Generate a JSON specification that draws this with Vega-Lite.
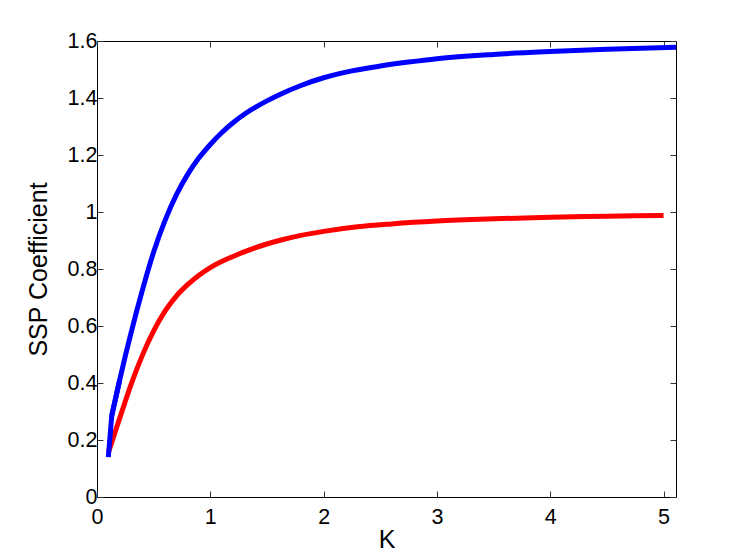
{
  "$schema": "https://vega.github.io/schema/vega-lite/v6.json",
  "width": 579,
  "height": 456,
  "autosize": "none",
  "padding": {"left": 97, "top": 41, "right": 71, "bottom": 62},
  "background": "white",
  "config": {
    "font": "Liberation Sans",
    "view": {"stroke": "black", "strokeWidth": 1},
    "axis": {
      "grid": false,
      "domain": false,
      "tickSize": -6,
      "tickColor": "#333333",
      "labelFlush": false,
      "labelFont": "Liberation Sans",
      "labelFontSize": 21.5,
      "labelColor": "black",
      "titleFont": "Liberation Sans",
      "titleFontSize": 25,
      "titleFontWeight": "normal",
      "titleColor": "black"
    }
  },
  "datasets": {
    "main": [
      {"K": 0.13, "v": 0.285, "series": "A"},
      {"K": 0.2, "v": 0.41, "series": "A"},
      {"K": 0.25, "v": 0.495, "series": "A"},
      {"K": 0.3, "v": 0.575, "series": "A"},
      {"K": 0.35, "v": 0.652, "series": "A"},
      {"K": 0.4, "v": 0.725, "series": "A"},
      {"K": 0.45, "v": 0.795, "series": "A"},
      {"K": 0.5, "v": 0.86, "series": "A"},
      {"K": 0.6, "v": 0.97, "series": "A"},
      {"K": 0.7, "v": 1.06, "series": "A"},
      {"K": 0.8, "v": 1.132, "series": "A"},
      {"K": 0.9, "v": 1.19, "series": "A"},
      {"K": 1.0, "v": 1.237, "series": "A"},
      {"K": 1.1, "v": 1.278, "series": "A"},
      {"K": 1.2, "v": 1.313, "series": "A"},
      {"K": 1.3, "v": 1.343, "series": "A"},
      {"K": 1.4, "v": 1.368, "series": "A"},
      {"K": 1.5, "v": 1.39, "series": "A"},
      {"K": 1.6, "v": 1.41, "series": "A"},
      {"K": 1.8, "v": 1.444, "series": "A"},
      {"K": 2.0, "v": 1.471, "series": "A"},
      {"K": 2.25, "v": 1.495, "series": "A"},
      {"K": 2.5, "v": 1.512, "series": "A"},
      {"K": 2.75, "v": 1.526, "series": "A"},
      {"K": 3.0, "v": 1.538, "series": "A"},
      {"K": 3.5, "v": 1.553, "series": "A"},
      {"K": 4.0, "v": 1.563, "series": "A"},
      {"K": 4.5, "v": 1.571, "series": "A"},
      {"K": 5.11, "v": 1.578, "series": "A"},
      {"K": 0.1, "v": 0.155, "series": "B"},
      {"K": 0.15, "v": 0.216, "series": "B"},
      {"K": 0.2, "v": 0.276, "series": "B"},
      {"K": 0.25, "v": 0.336, "series": "B"},
      {"K": 0.3, "v": 0.394, "series": "B"},
      {"K": 0.4, "v": 0.497, "series": "B"},
      {"K": 0.5, "v": 0.583, "series": "B"},
      {"K": 0.6, "v": 0.652, "series": "B"},
      {"K": 0.7, "v": 0.705, "series": "B"},
      {"K": 0.8, "v": 0.745, "series": "B"},
      {"K": 0.9, "v": 0.778, "series": "B"},
      {"K": 1.0, "v": 0.805, "series": "B"},
      {"K": 1.2, "v": 0.844, "series": "B"},
      {"K": 1.4, "v": 0.875, "series": "B"},
      {"K": 1.6, "v": 0.899, "series": "B"},
      {"K": 1.8, "v": 0.918, "series": "B"},
      {"K": 2.0, "v": 0.932, "series": "B"},
      {"K": 2.3, "v": 0.948, "series": "B"},
      {"K": 2.6, "v": 0.958, "series": "B"},
      {"K": 3.0, "v": 0.968, "series": "B"},
      {"K": 3.5, "v": 0.976, "series": "B"},
      {"K": 4.0, "v": 0.982, "series": "B"},
      {"K": 4.5, "v": 0.985, "series": "B"},
      {"K": 5.0, "v": 0.988, "series": "B"}
    ],
    "kink": [
      {"K": 0.1, "v": 0.14, "series": "A"},
      {"K": 0.13, "v": 0.285, "series": "A"},
      {"K": 0.2, "v": 0.41, "series": "A"}
    ]
  },
  "resolve": {"axis": {"x": "independent", "y": "independent"}},
  "layer": [
    {
      "data": {"name": "main"},
      "mark": {"type": "line", "strokeWidth": 5, "clip": true, "strokeJoin": "round", "interpolate": "monotone"},
      "encoding": {
        "x": {
          "field": "K", "type": "quantitative",
          "scale": {"domain": [0, 5.11], "nice": false, "zero": false},
          "axis": {"values": [0, 1, 2, 3, 4, 5], "format": "~g", "labelPadding": 15, "title": "K", "titlePadding": 0}
        },
        "y": {
          "field": "v", "type": "quantitative",
          "scale": {"domain": [0, 1.6], "nice": false},
          "axis": {"values": [0, 0.2, 0.4, 0.6, 0.8, 1, 1.2, 1.4, 1.6], "format": "~g", "labelPadding": 6, "title": "SSP Coefficient", "titlePadding": 16}
        },
        "color": {
          "field": "series", "type": "nominal",
          "scale": {"domain": ["A", "B"], "range": ["#0000ff", "#ff0000"]},
          "legend": null
        }
      }
    },
    {
      "data": {"name": "kink"},
      "mark": {"type": "line", "strokeWidth": 5, "clip": true, "strokeJoin": "miter", "color": "#0000ff"},
      "encoding": {
        "x": {"field": "K", "type": "quantitative", "axis": null},
        "y": {"field": "v", "type": "quantitative", "axis": null}
      }
    },
    {
      "data": {"name": "main"},
      "mark": {"type": "line", "opacity": 0},
      "encoding": {
        "x": {
          "field": "K", "type": "quantitative",
          "axis": {"orient": "top", "values": [0, 1, 2, 3, 4, 5], "labels": false, "title": null}
        },
        "y": {
          "field": "v", "type": "quantitative",
          "axis": {"orient": "right", "values": [0, 0.2, 0.4, 0.6, 0.8, 1, 1.2, 1.4, 1.6], "labels": false, "title": null}
        },
        "detail": {"field": "series"}
      }
    }
  ]
}
